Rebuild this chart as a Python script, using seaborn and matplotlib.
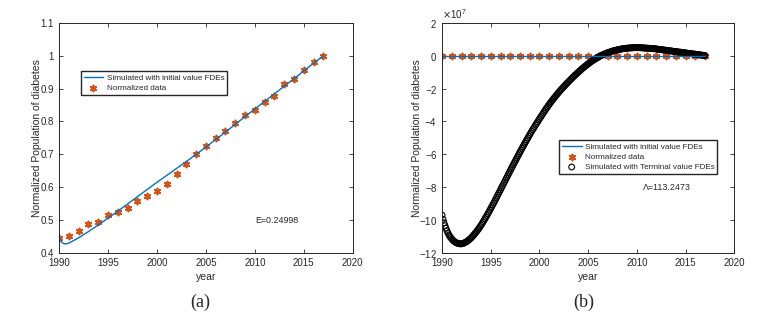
import numpy as np
import pandas as pd
import matplotlib as mpl
import matplotlib.pyplot as plt
from matplotlib.ticker import FuncFormatter, MultipleLocator
import seaborn as sns

# data
years = list(range(1990, 2018))
norm_data = [0.447, 0.453, 0.466, 0.488, 0.495, 0.515, 0.525, 0.538, 0.557, 0.572,
             0.588, 0.610, 0.640, 0.670, 0.700, 0.725, 0.750, 0.772, 0.796, 0.820,
             0.835, 0.858, 0.876, 0.913, 0.930, 0.957, 0.980, 1.000]

sim_years = [1990, 1990.25, 1990.5, 1990.75] + list(range(1991, 2018))
sim_initial = [0.447, 0.433, 0.428, 0.428,
               0.430, 0.446, 0.465, 0.485, 0.506, 0.527, 0.549, 0.571, 0.593,
               0.615, 0.636, 0.657, 0.678, 0.700, 0.722, 0.745, 0.768, 0.791,
               0.815, 0.838, 0.861, 0.884, 0.907, 0.930, 0.954, 0.977, 1.000]

term_years = np.round(np.arange(1990, 2017.001, 0.1), 1)
# terminal value FDE solution, units of 1e7, one row per year (step 0.1)
term_vals_e7 = [
    -9.70, -9.95, -10.16, -10.34, -10.50, -10.65, -10.78, -10.90, -11.00, -11.08,  # 1990
    -11.15, -11.22, -11.27, -11.32, -11.36, -11.39, -11.41, -11.43, -11.44, -11.45,  # 1991
    -11.44, -11.43, -11.41, -11.38, -11.35, -11.32, -11.28, -11.23, -11.18, -11.13,  # 1992
    -11.07, -11.01, -10.94, -10.87, -10.80, -10.73, -10.65, -10.57, -10.49, -10.40,  # 1993
    -10.31, -10.22, -10.12, -10.02, -9.92, -9.82, -9.72, -9.61, -9.51, -9.40,  # 1994
    -9.29, -9.18, -9.07, -8.96, -8.85, -8.73, -8.62, -8.50, -8.38, -8.27,  # 1995
    -8.15, -8.03, -7.92, -7.80, -7.69, -7.57, -7.45, -7.34, -7.22, -7.11,  # 1996
    -6.99, -6.87, -6.76, -6.64, -6.53, -6.42, -6.31, -6.19, -6.08, -5.97,  # 1997
    -5.86, -5.75, -5.64, -5.54, -5.43, -5.32, -5.22, -5.11, -5.01, -4.90,  # 1998
    -4.80, -4.70, -4.60, -4.50, -4.41, -4.31, -4.21, -4.12, -4.03, -3.93,  # 1999
    -3.84, -3.75, -3.66, -3.57, -3.48, -3.39, -3.30, -3.21, -3.13, -3.04,  # 2000
    -2.96, -2.88, -2.80, -2.72, -2.65, -2.57, -2.50, -2.42, -2.35, -2.28,  # 2001
    -2.21, -2.14, -2.07, -2.01, -1.94, -1.88, -1.82, -1.75, -1.69, -1.63,  # 2002
    -1.57, -1.51, -1.45, -1.39, -1.33, -1.27, -1.21, -1.16, -1.10, -1.05,  # 2003
    -0.99, -0.94, -0.89, -0.83, -0.78, -0.73, -0.68, -0.63, -0.59, -0.54,  # 2004
    -0.49, -0.45, -0.40, -0.36, -0.32, -0.28, -0.24, -0.21, -0.17, -0.13,  # 2005
    -0.10, -0.07, -0.03, 0.00, 0.03, 0.05, 0.08, 0.11, 0.13, 0.16,  # 2006
    0.18, 0.20, 0.22, 0.24, 0.26, 0.28, 0.30, 0.31, 0.33, 0.34,  # 2007
    0.36, 0.37, 0.38, 0.39, 0.41, 0.42, 0.43, 0.43, 0.44, 0.45,  # 2008
    0.46, 0.46, 0.47, 0.47, 0.48, 0.48, 0.48, 0.49, 0.49, 0.49,  # 2009
    0.49, 0.49, 0.49, 0.49, 0.48, 0.48, 0.48, 0.47, 0.47, 0.46,  # 2010
    0.46, 0.46, 0.45, 0.45, 0.44, 0.44, 0.43, 0.43, 0.42, 0.42,  # 2011
    0.41, 0.40, 0.39, 0.38, 0.38, 0.37, 0.36, 0.35, 0.34, 0.34,  # 2012
    0.33, 0.32, 0.31, 0.30, 0.30, 0.29, 0.28, 0.27, 0.26, 0.26,  # 2013
    0.25, 0.24, 0.23, 0.22, 0.22, 0.21, 0.20, 0.19, 0.18, 0.18,  # 2014
    0.17, 0.16, 0.15, 0.14, 0.14, 0.13, 0.12, 0.11, 0.10, 0.10,  # 2015
    0.09, 0.08, 0.07, 0.06, 0.06, 0.05, 0.04, 0.03, 0.02, 0.02,  # 2016
    0.01,  # 2017
]
term_vals = np.array(term_vals_e7) * 1e7

x_ticks = [1990, 1995, 2000, 2005, 2010, 2015, 2020]

# style
c_blue = "#0072BD"
c_orange = "#D95319"
c_axis = "#262626"

sns.set_style("ticks")
plt.rcParams['font.family'] = ['Liberation Sans', 'DejaVu Sans']
mpl.rcParams['xtick.direction'] = 'in'
mpl.rcParams['ytick.direction'] = 'in'
mpl.rcParams['xtick.top'] = True
mpl.rcParams['ytick.right'] = True
mpl.rcParams['xtick.major.size'] = 3
mpl.rcParams['ytick.major.size'] = 3
mpl.rcParams['xtick.major.width'] = 0.6
mpl.rcParams['ytick.major.width'] = 0.6
mpl.rcParams['axes.linewidth'] = 0.7
mpl.rcParams['axes.edgecolor'] = c_axis
mpl.rcParams['xtick.color'] = c_axis
mpl.rcParams['ytick.color'] = c_axis
mpl.rcParams['axes.labelcolor'] = c_axis
mpl.rcParams['xtick.labelsize'] = 7
mpl.rcParams['ytick.labelsize'] = 7
mpl.rcParams['axes.labelsize'] = 7.5

fig = plt.figure(figsize=(7.57, 3.17), dpi=100)
ax1 = fig.add_axes([0.078, 0.202, 0.388, 0.726])
ax2 = fig.add_axes([0.584, 0.202, 0.386, 0.726])

star = (6, 2, 0)
leg_kw = dict(fontsize=5.9, fancybox=False, edgecolor=c_axis, framealpha=1,
              borderpad=0.35, handlelength=2.4, handletextpad=0.4,
              labelspacing=0.3, borderaxespad=0)

# (a)
sns.lineplot(x=sim_years, y=sim_initial, ax=ax1, color=c_blue, lw=1.0,
             label="Simulated with initial value FDEs")
sns.scatterplot(x=years, y=norm_data, ax=ax1, marker=star, color=c_orange,
                s=18, linewidth=1.3, label="Normalized data")
ax1.set_xlim(1990, 2020)
ax1.set_ylim(0.4, 1.1)
ax1.yaxis.set_major_locator(MultipleLocator(0.1))
ax1.yaxis.set_major_formatter(FuncFormatter(lambda v, p: f"{v:g}"))
ax1.text(2010, 0.5, "E=0.24998", fontsize=6.4, color=c_axis, va='center')
ax1.legend(loc='upper left', bbox_to_anchor=(0.074, 0.79), **leg_kw)

# (b)
sns.lineplot(x=sim_years, y=sim_initial, ax=ax2, color=c_blue, lw=1.0,
             label="Simulated with initial value FDEs")
sns.scatterplot(x=years, y=norm_data, ax=ax2, marker=star, color=c_orange,
                s=18, linewidth=1.3, label="Normalized data")
sns.scatterplot(x=term_years, y=term_vals, ax=ax2, marker='o', facecolor='none',
                edgecolor='black', s=17, linewidth=0.8,
                label="Simulated with Terminal value FDEs")
ax2.set_xlim(1990, 2020)
ax2.set_ylim(-12e7, 2e7)
ax2.yaxis.set_major_locator(MultipleLocator(2e7))
ax2.ticklabel_format(axis='y', style='sci', scilimits=(7, 7), useMathText=True)
ax2.yaxis.get_offset_text().set_fontsize(7)
ax2.text(2010.6, -8e7, "\u039b=113.2473", fontsize=6.4, color=c_axis, va='center')
ax2.legend(loc='upper left', bbox_to_anchor=(0.40, 0.49), **leg_kw)

for ax in (ax1, ax2):
    ax.set_xticks(x_ticks)
    ax.set_xlabel("year", labelpad=3)
    for s in ax.spines.values():
        s.set_visible(True)
ax1.set_ylabel("Normalized Population of diabetes", labelpad=-1)
ax2.set_ylabel("Normalized Population of diabetes", labelpad=-2)

fig.text(0.264, 0.047, "(a)", family='Liberation Serif', fontsize=13,
         ha='center', va='center')
fig.text(0.771, 0.047, "(b)", family='Liberation Serif', fontsize=13,
         ha='center', va='center')

plt.savefig("out.png", dpi=100)
